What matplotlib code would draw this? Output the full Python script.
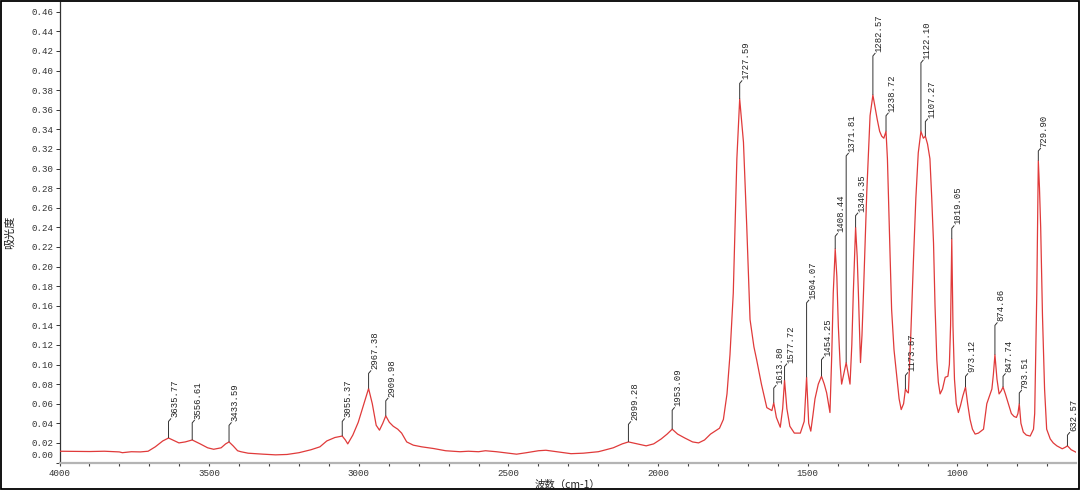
import matplotlib
matplotlib.use("Agg")
import matplotlib.pyplot as plt
import matplotlib.transforms as mtransforms
from matplotlib.patches import Rectangle

# ---------------- data ----------------
wavenumber = [
    4000, 3950, 3900, 3850, 3800, 3790, 3760, 3730, 3704, 3680, 3655, 3635.77, 3615, 3601, 3580,
    3556.61, 3530, 3505, 3485, 3460, 3445, 3433.59, 3420, 3405, 3394, 3370, 3347, 3320, 3278, 3240,
    3200, 3160, 3130, 3107, 3080, 3055.37, 3045, 3037, 3020, 3002, 2985, 2967.38, 2955, 2942, 2931,
    2920, 2909.98, 2898, 2885, 2870, 2857, 2840, 2818, 2790, 2751, 2710, 2662, 2634, 2600, 2577,
    2540, 2500, 2473, 2440, 2400, 2375, 2340, 2291, 2250, 2200, 2187, 2150, 2120, 2099.28, 2070,
    2040, 2015, 1990, 1970, 1953.09, 1935, 1911, 1885, 1865, 1845, 1825, 1810, 1795, 1782, 1770,
    1760, 1749, 1737, 1727.59, 1715, 1704, 1693, 1680, 1671, 1655, 1637, 1620, 1613.80, 1605, 1592,
    1584, 1577.72, 1570, 1560, 1545, 1525, 1512, 1504.07, 1497, 1490, 1483, 1476, 1465, 1454.25, 1445,
    1437, 1430, 1426, 1420, 1415, 1408.44, 1403, 1398, 1392, 1387, 1380, 1371.81, 1365, 1359, 1353,
    1348, 1340.35, 1335, 1331, 1324, 1319, 1314, 1303, 1292, 1282.57, 1275, 1268, 1260, 1253, 1246,
    1238.72, 1234, 1231, 1225, 1220, 1212, 1203, 1195, 1188, 1180, 1173.87, 1168, 1164, 1156, 1147,
    1139, 1131, 1122.10, 1114, 1107.27, 1100, 1092, 1086, 1080, 1075, 1069, 1064, 1058, 1050, 1041,
    1032, 1027, 1023, 1019.05, 1015, 1010, 1004, 997, 990, 982, 973.12, 966, 958, 950, 941,
    930, 913, 902, 893, 885, 880, 874.86, 868, 861, 854, 847.74, 840, 830, 820, 811,
    803, 798, 793.51, 788, 780, 770, 757, 746, 742, 738, 735, 729.90, 726, 722, 716,
    709, 702, 690, 680, 668, 650, 640, 632.57, 620, 604,
]
absorbance = [
    0.0115, 0.0113, 0.0112, 0.0115, 0.0108, 0.0100, 0.0110, 0.0108, 0.0115, 0.0160, 0.0220, 0.0250, 0.0220, 0.0200, 0.0210,
    0.0230, 0.0190, 0.0150, 0.0135, 0.0150, 0.0190, 0.0210, 0.0170, 0.0120, 0.0110, 0.0095, 0.0090, 0.0085, 0.0078, 0.0082,
    0.0100, 0.0130, 0.0160, 0.0220, 0.0255, 0.0270, 0.0230, 0.0190, 0.0280, 0.0410, 0.0580, 0.0755, 0.0600, 0.0380, 0.0330,
    0.0400, 0.0476, 0.0410, 0.0370, 0.0340, 0.0300, 0.0210, 0.0177, 0.0160, 0.0143, 0.0120, 0.0110, 0.0115, 0.0110, 0.0120,
    0.0110, 0.0095, 0.0085, 0.0100, 0.0120, 0.0125, 0.0110, 0.0090, 0.0095, 0.0110, 0.0120, 0.0150, 0.0190, 0.0210, 0.0190,
    0.0170, 0.0190, 0.0240, 0.0290, 0.0340, 0.0290, 0.0250, 0.0210, 0.0200, 0.0230, 0.0290, 0.0320, 0.0350, 0.0440, 0.0700,
    0.1100, 0.1730, 0.3100, 0.3710, 0.3270, 0.2410, 0.1460, 0.1180, 0.1050, 0.0800, 0.0560, 0.0530, 0.0610, 0.0460, 0.0360,
    0.0550, 0.0840, 0.0550, 0.0370, 0.0300, 0.0300, 0.0420, 0.0870, 0.0400, 0.0320, 0.0480, 0.0650, 0.0800, 0.0880, 0.0800,
    0.0710, 0.0580, 0.0510, 0.1100, 0.1730, 0.2180, 0.1900, 0.1390, 0.1000, 0.0800, 0.0900, 0.1020, 0.0900, 0.0800, 0.1200,
    0.1730, 0.2400, 0.2100, 0.1730, 0.1020, 0.1300, 0.1730, 0.2760, 0.3540, 0.3750, 0.3620, 0.3500, 0.3380, 0.3330, 0.3310,
    0.3380, 0.3100, 0.2760, 0.2100, 0.1560, 0.1150, 0.0880, 0.0650, 0.0540, 0.0600, 0.0750, 0.0720, 0.0710, 0.1300, 0.2070,
    0.2700, 0.3160, 0.3380, 0.3310, 0.3330, 0.3250, 0.3100, 0.2700, 0.2240, 0.1600, 0.1050, 0.0820, 0.0700, 0.0750, 0.0870,
    0.0880, 0.1000, 0.1400, 0.2280, 0.1390, 0.0850, 0.0600, 0.0510, 0.0580, 0.0680, 0.0770, 0.0600, 0.0440, 0.0340, 0.0290,
    0.0300, 0.0340, 0.0600, 0.0680, 0.0750, 0.0900, 0.1100, 0.0850, 0.0700, 0.0730, 0.0770, 0.0700, 0.0600, 0.0500, 0.0470,
    0.0460, 0.0500, 0.0600, 0.0400, 0.0310, 0.0280, 0.0270, 0.0340, 0.0500, 0.1200, 0.1730, 0.3080, 0.2800, 0.2400, 0.1500,
    0.0750, 0.0340, 0.0240, 0.0200, 0.0170, 0.0140, 0.0155, 0.0170, 0.0130, 0.0105,
]

peak_wavenumbers = [3635.77, 3556.61, 3433.59, 3055.37, 2967.38, 2909.98, 2099.28, 1953.09,
                    1727.59, 1613.80, 1577.72, 1504.07, 1454.25, 1408.44, 1371.81, 1340.35,
                    1282.57, 1238.72, 1173.87, 1122.10, 1107.27, 1019.05, 973.12, 874.86,
                    847.74, 793.51, 729.90, 632.57]
peak_absorbance = [0.0250, 0.0230, 0.0210, 0.0270, 0.0755, 0.0476, 0.0210, 0.0340,
                   0.3710, 0.0610, 0.0840, 0.0870, 0.0880, 0.2180, 0.1020, 0.2400,
                   0.3750, 0.3380, 0.0750, 0.3380, 0.3330, 0.2280, 0.0770, 0.1100,
                   0.0770, 0.0600, 0.3080, 0.0170]
peak_labels = ["%.2f" % w for w in peak_wavenumbers]

y_ticks = [round(0.02 * i, 2) for i in range(24)]
x_ticks = [4000, 3500, 3000, 2500, 2000, 1500, 1000]
x_label = "波数（cm-1）"
y_label = "吸光度"

# layout: height (in absorbance units) where each rotated peak label starts
label_base = [0.046, 0.0445, 0.042, 0.046, 0.095, 0.067, 0.043, 0.0574,
              0.391, 0.080, 0.102, 0.167, 0.109, 0.235, 0.317, 0.256,
              0.419, 0.358, 0.093, 0.412, 0.352, 0.243, 0.092, 0.144,
              0.092, 0.075, 0.322, 0.032]

# ---------------- figure ----------------
W, H = 1080, 492
fig = plt.figure(figsize=(W / 100, H / 100), dpi=100)
left_px, right_px, top_px, bottom_px = 59.5, 1076, 2, 462.5
ax = fig.add_axes([left_px / W, 1 - bottom_px / H, (right_px - left_px) / W, (bottom_px - top_px) / H])

ymax = 0.47
ax.set_xlim(4000, 604)
ax.set_ylim(0, ymax)

ax.plot(wavenumber, absorbance, color="#e03a3a", linewidth=0.9, zorder=3)

num_font = "Liberation Mono"
cjk_font = ["Noto Sans CJK SC", "DejaVu Sans"]

# pixel -> data conversions
px_y = ymax / (bottom_px - top_px)
px_x = (4000 - 604) / (right_px - left_px)

for w, a, lab, base in zip(peak_wavenumbers, peak_absorbance, peak_labels, label_base):
    top = base - 4 * px_y
    ax.plot([w, w, w - 2.5 * px_x], [a, top, base - 1 * px_y],
            color="#333333", linewidth=0.7, zorder=4, solid_capstyle="butt")
    tr = mtransforms.offset_copy(ax.transData, fig=fig, x=6, y=0, units="dots")
    ax.text(w, base, lab, rotation=90, ha="center", va="bottom", transform=tr,
            fontsize=6.4, family=num_font, color="#222222", zorder=5)

# spines
for s in ("top", "right"):
    ax.spines[s].set_visible(False)
ax.spines["left"].set_linestyle((0, (1, 1)))
ax.spines["left"].set_color("#333333")
ax.spines["left"].set_linewidth(0.9)
ax.spines["bottom"].set_color("#b4b4b4")
ax.spines["bottom"].set_linewidth(1.6)

# ticks
ax.set_yticks(y_ticks)
ax.set_yticklabels([""] + ["%.2f" % v for v in y_ticks[1:]])
ax.tick_params(axis="y", direction="out", length=3, width=0.7, color="#333333",
               pad=1.5, labelsize=6.6, labelcolor="#333333")
ax.set_xticks(x_ticks)
ax.set_xticks(list(range(4000, 600, -100)), minor=True)
ax.tick_params(axis="x", which="both", direction="out", length=2.5, width=0.8,
               color="#444444", pad=2.0, labelsize=6.6, labelcolor="#333333")
for t in ax.get_xticklabels() + ax.get_yticklabels():
    t.set_family(num_font)

# "0.00" label is drawn slightly above the axis line in the reference
tr0 = mtransforms.offset_copy(ax.transData, fig=fig, x=-6, y=7, units="dots")
ax.text(4000, 0.0, "0.00", transform=tr0, ha="right", va="center",
        fontsize=6.6, family=num_font, color="#333333")

ax.set_xlabel(x_label, family=cjk_font, fontsize=7.5, color="#222222")
ax.xaxis.set_label_coords(0.5, -(485 - bottom_px) / (bottom_px - top_px))
ax.xaxis.label.set_va("center")
ax.set_ylabel(y_label, family=cjk_font, fontsize=8.0, color="#222222")
ax.yaxis.set_label_coords((9.5 - left_px) / (right_px - left_px), 0.5)
ax.yaxis.label.set_va("center")

# outer frame around the whole picture
fig.patches.append(Rectangle((0.5 / W, 1 - 488.5 / H), 1078 / W, 488 / H,
                             transform=fig.transFigure, fill=False,
                             edgecolor="black", linewidth=1.3))

fig.savefig("out.png", dpi=100)
